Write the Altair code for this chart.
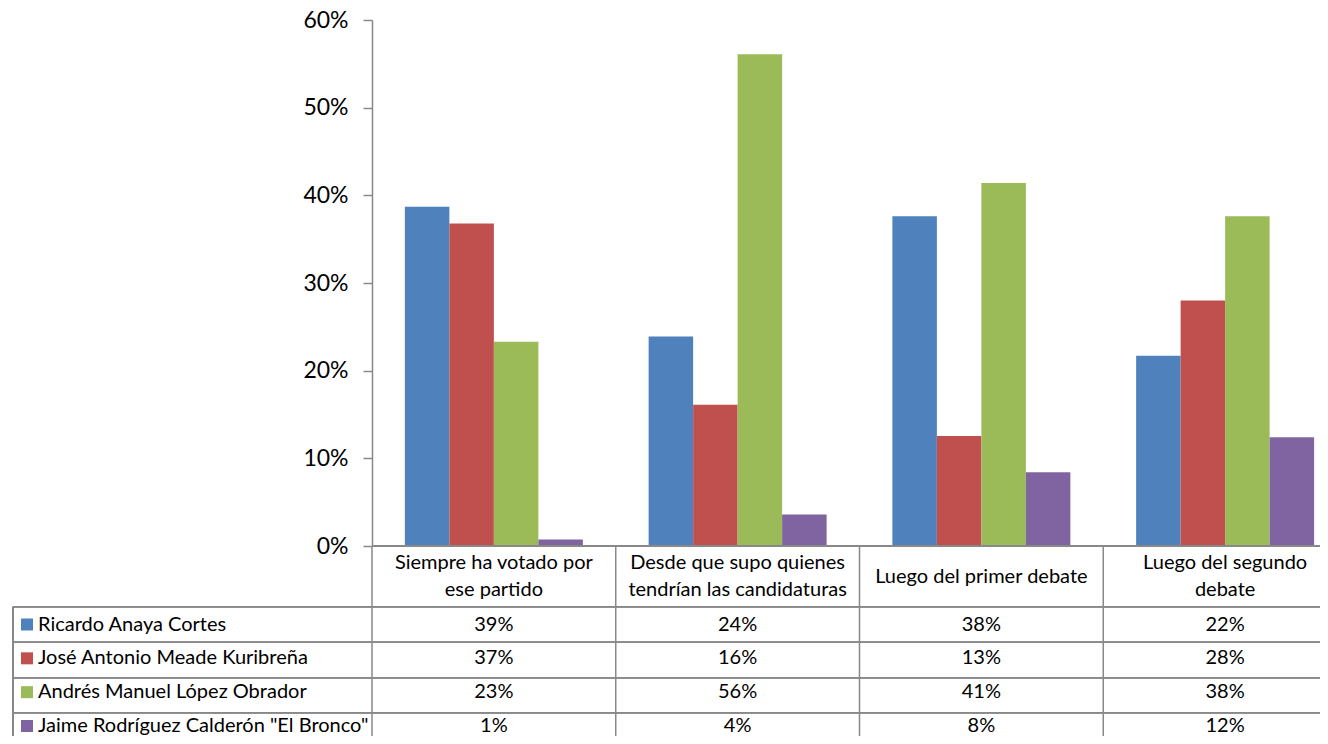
import altair as alt
import pandas as pd

# ---- data ----
categories = [
    "Siempre ha votado por ese partido",
    "Desde que supo quienes tendrían las candidaturas",
    "Luego del primer debate",
    "Luego del segundo debate",
]
header_labels = [
    "Siempre ha votado por\nese partido",
    "Desde que supo quienes\ntendrían las candidaturas",
    "Luego del primer debate",
    "Luego del segundo\ndebate",
]
candidates = [
    "Ricardo Anaya Cortes",
    "José Antonio Meade Kuribreña",
    "Andrés Manuel López Obrador",
    'Jaime Rodríguez Calderón "El Bronco"',
]
colors = ["#4F81BD", "#C0504D", "#9BBB59", "#8064A2"]

anaya = [0.387, 0.239, 0.376, 0.217]
meade = [0.368, 0.161, 0.1255, 0.280]
amlo = [0.233, 0.561, 0.414, 0.376]
bronco = [0.0073, 0.036, 0.084, 0.124]
y_ticks = [0.0, 0.1, 0.2, 0.3, 0.4, 0.5, 0.6]

series = [anaya, meade, amlo, bronco]

rows = []
for ci, cand in enumerate(candidates):
    for ki, cat in enumerate(categories):
        rows.append({"cat": cat, "cand": cand, "value": series[ci][ki]})
df = pd.DataFrame(rows)
cats_df = pd.DataFrame({"cat": categories, "label": header_labels})
cats_df["nlines"] = cats_df["label"].str.count("\n") + 1
cands_df = pd.DataFrame({"cand": candidates})

FONT = "Lato"
GRID = "#898989"
W = 948
H = 716
BASE = 526  # pixel of 0%
BOTTOM = 716
TXT = 20

x_scale = alt.Scale(domain=categories, range=[0, 975], paddingInner=0, paddingOuter=0)
cand_y = alt.Scale(domain=candidates, range=[604.5, 706], padding=0)
color_scale = alt.Scale(domain=candidates, range=colors)
x_cat = alt.X("cat:N", scale=x_scale, axis=None, sort=categories)

bars = alt.Chart(df).mark_bar().encode(
    x=x_cat,
    xOffset=alt.XOffset("cand:N", scale=alt.Scale(domain=candidates, paddingInner=0, paddingOuter=0.739)),
    y=alt.Y(
        "value:Q",
        scale=alt.Scale(domain=[0, 0.6], range=[BASE, 0], nice=False, zero=True),
        axis=alt.Axis(
            format=".0%", values=y_ticks, title=None, grid=False,
            tickSize=9, tickColor=GRID, tickWidth=1.5,
            domainColor=GRID, domainWidth=1.5,
            labelFont=FONT, labelFontSize=23, labelColor="black", labelPadding=15,
        ),
    ),
    color=alt.Color("cand:N", scale=color_scale, legend=None),
)

# table lines
hline_base = alt.Chart(cats_df).mark_rule(color=GRID, strokeWidth=1.5).encode(
    x=alt.value(0), x2=alt.value(W), y=alt.value(BASE)
)
hlines = [
    alt.Chart(cats_df).mark_rule(color=GRID, strokeWidth=1.5).encode(
        x=alt.value(-359), x2=alt.value(W), y=alt.value(yv)
    )
    for yv in [586.7, 622.3, 657.7, 692.7]
]
left_border = alt.Chart(cats_df).mark_rule(color=GRID, strokeWidth=1.5).encode(
    x=alt.value(-359), y=alt.value(586.7), y2=alt.value(BOTTOM)
)
vlines = alt.Chart(cats_df).mark_rule(color=GRID, strokeWidth=1.5).encode(
    x=alt.X("cat:N", scale=x_scale, axis=None, bandPosition=0, sort=categories),
    y=alt.value(BASE), y2=alt.value(BOTTOM),
)

header_one = alt.Chart(cats_df).transform_filter("datum.nlines == 1").mark_text(
    font=FONT, fontSize=TXT, align="center", baseline="middle", color="black"
).encode(x=x_cat, y=alt.value(556.7), text="label:N")

header_two = alt.Chart(cats_df).transform_filter("datum.nlines == 2").mark_text(
    font=FONT, fontSize=TXT, lineBreak="\n", lineHeight=26.7, align="center", baseline="middle", color="black"
).encode(x=x_cat, y=alt.value(543.3), text="label:N")

values = alt.Chart(df).mark_text(
    font=FONT, fontSize=TXT, align="center", baseline="middle", color="black"
).encode(
    x=x_cat,
    y=alt.Y("cand:N", scale=cand_y, axis=None),
    text=alt.Text("value:Q", format=".0%"),
)

legend_text = alt.Chart(cands_df).mark_text(
    font=FONT, fontSize=TXT, align="left", baseline="middle", color="black"
).encode(
    x=alt.value(-334),
    y=alt.Y("cand:N", scale=cand_y, axis=None),
    text="cand:N",
)

swatches = alt.Chart(cands_df).mark_square(size=144, opacity=1, filled=True).encode(
    x=alt.value(-345),
    y=alt.Y("cand:N", scale=cand_y, axis=None),
    color=alt.Color("cand:N", scale=color_scale, legend=None),
)

chart = alt.layer(
    bars, hline_base, *hlines, left_border, vlines, header_one, header_two, values, legend_text, swatches
).resolve_scale(y="independent").properties(
    width=W, height=H,
    autosize=alt.AutoSizeParams(type="none"),
    padding={"left": 364, "top": 12, "right": 0, "bottom": 0},
).configure_view(stroke=None)

chart.save("out.html", embed_options={"renderer": "svg", "actions": False})
